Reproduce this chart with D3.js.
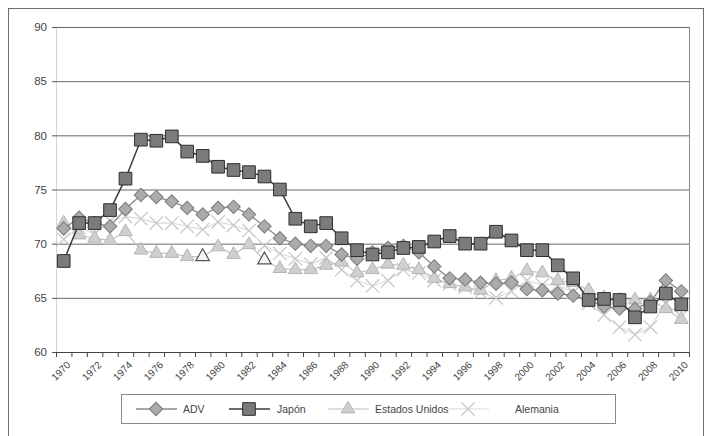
<!DOCTYPE html>
<html>
<head>
<meta charset="utf-8">
<script src="https://cdn.jsdelivr.net/npm/d3@7"></script>
<style>
  html, body { margin: 0; padding: 0; background: #fff; }
  svg { display: block; font-family: "DejaVu Sans", sans-serif; }
</style>
</head>
<body>
<svg id="chart" width="708" height="436"></svg>
<script>
const years = d3.range(1970, 2011);
const yTicks = [60, 65, 70, 75, 80, 85, 90];
const xLabelYears = years.filter(y => y % 2 === 0);

const adv = [71.4, 72.4, 71.9, 71.6, 73.2, 74.5, 74.3, 73.9, 73.3, 72.7,
             73.3, 73.4, 72.7, 71.6, 70.5, 70.0, 69.8, 69.8, 69.0, 68.6,
             69.2, 69.6, 69.8, 69.2, 67.9, 66.8, 66.7, 66.4, 66.3, 66.4,
             65.8, 65.7, 65.4, 65.2, 64.8, 64.2, 64.0, 64.0, 64.6, 66.6, 65.6];
const japon = [68.4, 71.9, 71.9, 73.1, 76.0, 79.6, 79.5, 79.9, 78.5, 78.1,
               77.1, 76.8, 76.6, 76.2, 75.0, 72.3, 71.6, 71.9, 70.5, 69.4,
               69.0, 69.2, 69.6, 69.7, 70.2, 70.7, 70.0, 70.0, 71.1, 70.3,
               69.4, 69.4, 68.0, 66.8, 64.8, 64.9, 64.8, 63.2, 64.2, 65.4, 64.4];
const estadosUnidos = [71.9, 70.8, 70.5, 70.3, 71.1, 69.4, 69.1, 69.1, 68.8, 68.8,
                       69.7, 69.0, 69.9, 68.5, 67.7, 67.6, 67.6, 68.0, 68.3, 67.3,
                       67.6, 68.1, 68.0, 67.6, 66.8, 66.3, 66.0, 65.7, 66.6, 66.8,
                       67.5, 67.3, 66.6, 66.4, 65.7, 65.0, 64.8, 64.8, 64.8, 64.0, 63.0];
const alemania = [70.4, 71.5, 70.9, 72.1, 72.5, 72.3, 71.9, 71.9, 71.6, 71.3,
                  72.0, 71.7, 71.2, 69.8, 69.1, 68.6, 68.1, 68.7, 67.6, 66.6,
                  66.1, 66.6, 67.6, 67.3, 66.6, 66.3, 66.0, 65.5, 65.0, 65.6,
                  66.6, 66.2, 66.2, 65.5, 64.5, 63.4, 62.3, 61.6, 62.3, 64.5, 63.3];
// triangles drawn with a dark outline in the original scan
const estadosUnidosOutlined = [1979, 1983];

const seriesNames = ["ADV", "Japón", "Estados Unidos", "Alemania"];

const styles = {
  "ADV":            { line: "#8a8a8a", fill: "#ababab", stroke: "#7a7a7a", type: "diamond", width: 1.3 },
  "Japón":          { line: "#3a3a3a", fill: "#7b7b7b", stroke: "#2e2e2e", type: "square", width: 1.5 },
  "Estados Unidos": { line: "#c2c2c2", fill: "#cfcfcf", stroke: "#b5b5b5", type: "triangle", width: 1.2 },
  "Alemania":       { line: "#d9d9d9", fill: "none", stroke: "#c9c9c9", type: "x", width: 1.1 }
};

const series = [
  { name: "Alemania", values: alemania },
  { name: "Estados Unidos", values: estadosUnidos },
  { name: "ADV", values: adv },
  { name: "Japón", values: japon }
];

const svg = d3.select("#chart");
const plot = { left: 56, right: 689, top: 27, bottom: 352 };

// outer frame
svg.append("rect").attr("x", 8.5).attr("y", 8.5).attr("width", 695).attr("height", 440)
  .attr("fill", "none").attr("stroke", "#6e6e6e").attr("stroke-width", 1);

const x = d3.scaleBand().domain(years).range([plot.left, plot.right]).paddingInner(0).paddingOuter(0);
const y = d3.scaleLinear().domain([60, 90]).range([plot.bottom, plot.top]);
const cx = yr => x(yr) + x.bandwidth() / 2;

// y axis
const yAxis = d3.axisLeft(y).tickValues(yTicks).tickSize(4).tickPadding(5);
const gy = svg.append("g").attr("transform", `translate(${plot.left},0)`).call(yAxis);
gy.select(".domain").attr("stroke", "#d4d4d4");
gy.selectAll(".tick line").attr("stroke", "#555");
gy.selectAll(".tick text").attr("fill", "#444").attr("font-size", 11.5);

// gridlines
svg.append("g").selectAll("line").data(yTicks.filter(v => v > 60)).join("line")
  .attr("x1", plot.left).attr("x2", plot.right)
  .attr("y1", d => y(d) + 0.5).attr("y2", d => y(d) + 0.5)
  .attr("stroke", "#666").attr("stroke-width", 1);

// right border of plot
svg.append("line").attr("x1", plot.right + 0.5).attr("x2", plot.right + 0.5)
  .attr("y1", plot.top).attr("y2", plot.bottom).attr("stroke", "#888");

// x axis
const xAxis = d3.axisBottom(x).tickValues(xLabelYears).tickSize(0).tickPadding(0);
const gx = svg.append("g").attr("transform", `translate(0,${plot.bottom})`).call(xAxis);
gx.select(".domain").remove();
gx.selectAll(".tick text")
  .attr("fill", "#444").attr("font-size", 10)
  .attr("text-anchor", "end")
  .attr("x", 0).attr("y", 0).attr("dy", "0.35em")
  .attr("transform", "translate(5,11) rotate(-45)");
svg.append("line").attr("x1", plot.left).attr("x2", plot.right + 1)
  .attr("y1", plot.bottom + 0.5).attr("y2", plot.bottom + 0.5).attr("stroke", "#444");
svg.append("g").selectAll("line").data(years.concat([2011])).join("line")
  .attr("x1", d => (d === 2011 ? plot.right : x(d)) + 0.5)
  .attr("x2", d => (d === 2011 ? plot.right : x(d)) + 0.5)
  .attr("y1", plot.bottom).attr("y2", plot.bottom + 5)
  .attr("stroke", "#444");

function symbolPath(type) {
  if (type === "square") return d3.symbol(d3.symbolSquare, 160)();
  if (type === "diamond") return d3.symbol(d3.symbolSquare, 90)();
  if (type === "triangle") return d3.symbol(d3.symbolTriangle, 80)();
  return d3.symbol(d3.symbolTimes, 120)();
}
function drawMarker(g, type, st, outlined) {
  const p = g.append("path").attr("d", symbolPath(type));
  if (type === "diamond") p.attr("transform", "rotate(45)");
  if (type === "x") p.attr("fill", "none").attr("stroke", st.stroke).attr("stroke-width", 1.3);
  else if (outlined) p.attr("fill", "#f4f4f4").attr("stroke", "#555").attr("stroke-width", 1.2);
  else p.attr("fill", st.fill).attr("stroke", st.stroke).attr("stroke-width", 1);
  return p;
}

const line = d3.line().x((d, i) => cx(years[i])).y(d => y(d));

series.forEach(s => {
  const st = styles[s.name];
  const g = svg.append("g");
  g.append("path").datum(s.values).attr("d", line)
    .attr("fill", "none").attr("stroke", st.line).attr("stroke-width", st.width);
  g.selectAll("g.m").data(s.values).join("g").attr("class", "m")
    .attr("transform", (d, i) => `translate(${cx(years[i])},${y(d)})`)
    .each(function(d, i) {
      const outlined = s.name === "Estados Unidos" && estadosUnidosOutlined.includes(years[i]);
      drawMarker(d3.select(this), st.type, st, outlined);
    });
});

// legend
const lg = svg.append("g").attr("font-family", "'Liberation Sans', Arial, sans-serif");
lg.append("rect").attr("x", 121.5).attr("y", 394.5).attr("width", 494).attr("height", 29)
  .attr("fill", "#fff").attr("stroke", "#8a8a8a");
const legendPos = { "ADV": 156, "Japón": 249, "Estados Unidos": 348, "Alemania": 468 };
const legendText = { "ADV": 183, "Japón": 277, "Estados Unidos": 375, "Alemania": 515 };
seriesNames.forEach(n => {
  const st = styles[n];
  const mx = legendPos[n];
  lg.append("line").attr("x1", mx - 20).attr("x2", mx + 21).attr("y1", 409).attr("y2", 409)
    .attr("stroke", st.line).attr("stroke-width", st.width);
  drawMarker(lg.append("g").attr("transform", `translate(${mx},409)`), st.type, st, false);
  lg.append("text").attr("x", legendText[n]).attr("y", 413).attr("font-size", 10.5)
    .attr("fill", "#444").text(n);
});
</script>
</body>
</html>
